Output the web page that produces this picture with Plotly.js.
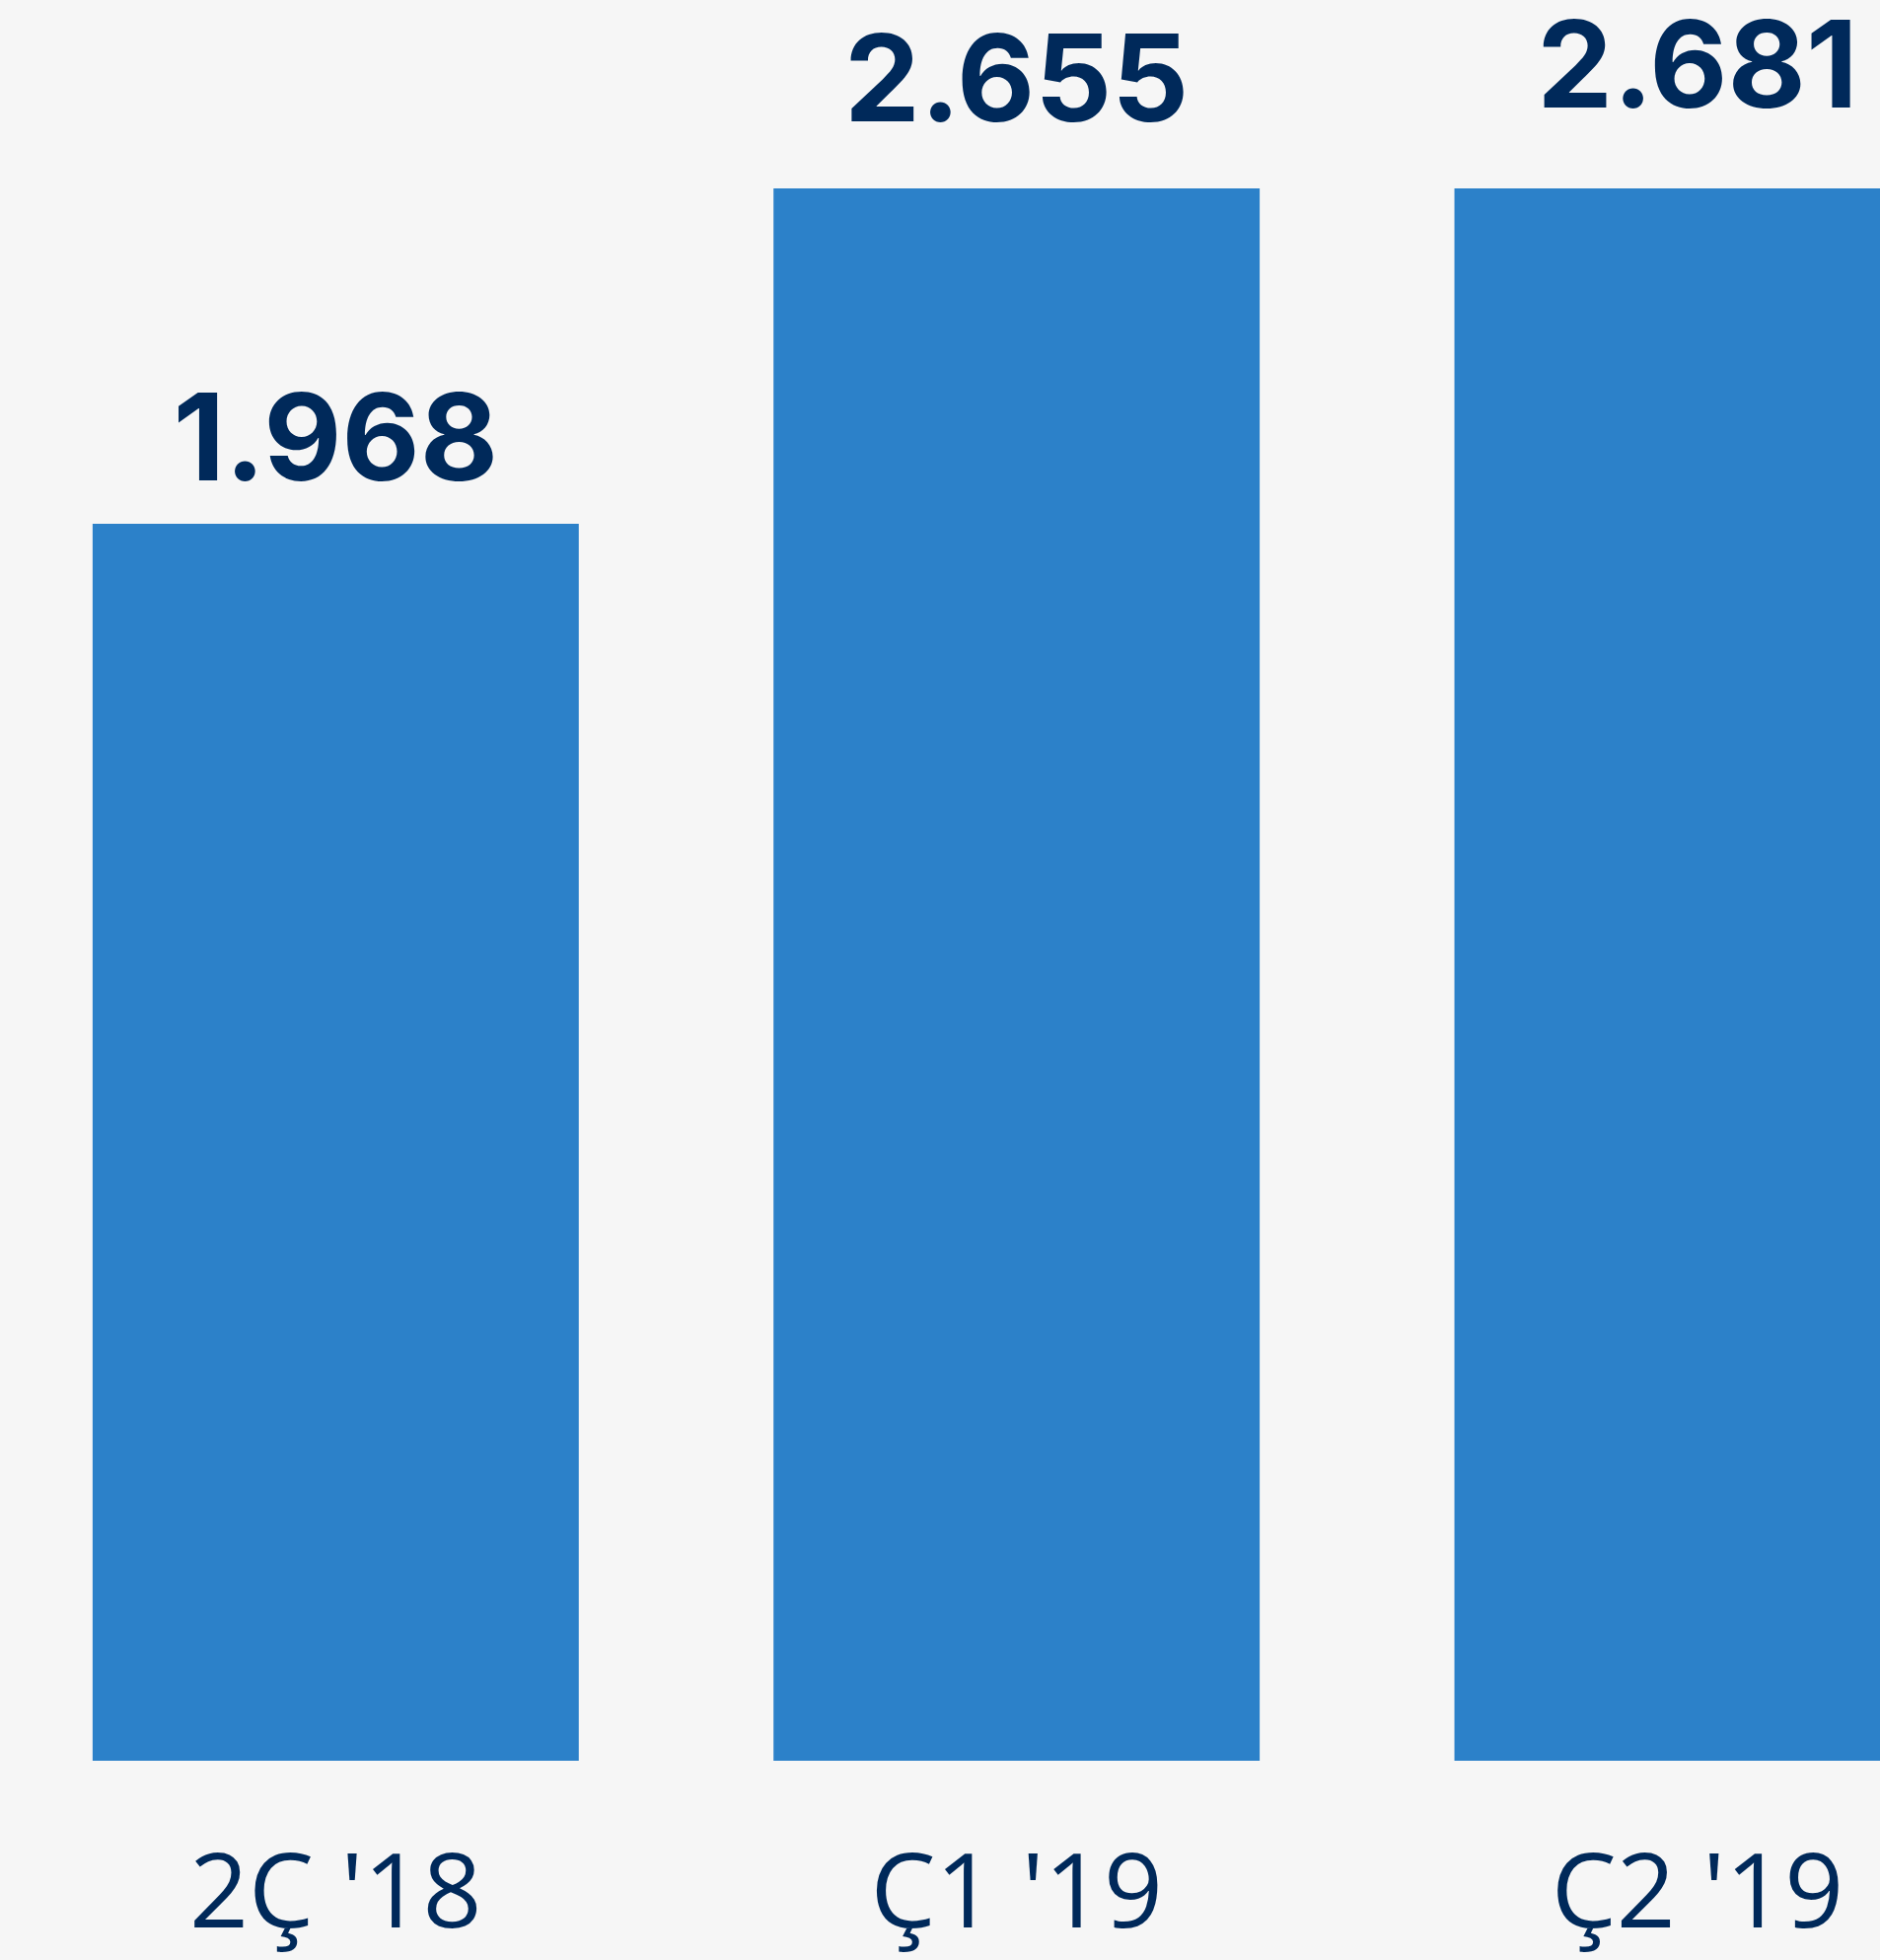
<!DOCTYPE html>
<html>
<head>
<meta charset="utf-8">
<script src="https://cdn.plot.ly/plotly-3.0.1.min.js"></script>
<style>
  html, body { margin: 0; padding: 0; background: #f6f6f6; overflow: hidden; }
  #chart { width: 1906px; height: 1987px; }
</style>
</head>
<body>
<div id="chart"></div>
<script>
// Data
const categories = ["2Ç '18", "Ç1 '19", "Ç2 '19"];
const values = [1968, 2655, 2681];

const navy = '#00295a';
const barBlue = '#2c81c9';

const bars = {
  type: 'bar',
  x: categories,
  y: values,
  marker: { color: barBlue, line: { width: 0 } },
  hoverinfo: 'skip',
  xaxis: 'x',
  yaxis: 'y'
};

const labels = {
  type: 'scatter',
  mode: 'text',
  x: categories,
  y: values,
  texttemplate: '%{y:,.0f}',
  textposition: 'middle center',
  textfont: { family: 'Inter, sans-serif', size: 122, color: navy, weight: 700 },
  cliponaxis: false,
  hoverinfo: 'skip',
  xaxis: 'x',
  yaxis: 'y2'
};

const layout = {
  width: 1906,
  height: 1987,
  paper_bgcolor: '#f6f6f6',
  plot_bgcolor: 'rgba(0,0,0,0)',
  separators: ',.',
  showlegend: false,
  bargap: 0.286,
  margin: { l: 0, r: 0, t: 0, b: 202, pad: 0 },
  xaxis: {
    type: 'category',
    range: [-0.493, 2.268],
    anchor: 'y',
    showgrid: false,
    zeroline: false,
    showline: false,
    ticks: 'outside',
    ticklen: 42,
    tickcolor: 'rgba(0,0,0,0)',
    tickfont: { family: 'Open Sans, sans-serif', size: 105, color: navy },
    fixedrange: true
  },
  yaxis: {
    domain: [0, 0.893],
    range: [0, 2501.6],
    visible: false,
    showgrid: false,
    zeroline: false,
    fixedrange: true
  },
  yaxis2: {
    domain: [0, 1],
    anchor: 'x',
    range: [-537.7, 2830],
    visible: false,
    showgrid: false,
    zeroline: false,
    fixedrange: true
  }
};

Plotly.newPlot('chart', [bars, labels], layout, { displayModeBar: false, staticPlot: true });
</script>
</body>
</html>
